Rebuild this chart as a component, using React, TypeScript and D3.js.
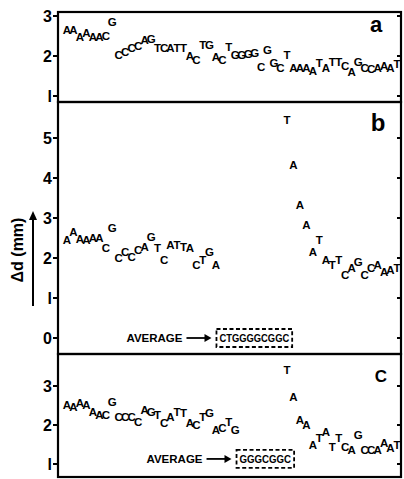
import { scaleLinear } from "d3";

// DNA sequence, one letter per base position
const bases = "AAAAAACGCCCCAGTCATTACTGACTGGGGCGGCTAAAATATTCAGCCAAAT".split("");

// Δd (mm) per base, null where the base is folded into the average
const valuesA = [
  2.65, 2.65, 2.48, 2.58, 2.48, 2.48, 2.5, 2.85, 2.03, 2.1, 2.2, 2.25, 2.4, 2.43, 2.2, 2.2, 2.2, 2.2,
  2.2, 2.0, 1.9, 2.28, 2.28, 1.98, 1.9, 2.23, 2.02, 2.03, 2.05, 2.07, 1.73, 2.15, 1.83, 1.7, 2.03, 1.7,
  1.7, 1.7, 1.63, 1.83, 1.7, 1.85, 1.85, 1.75, 1.6, 1.85, 1.7, 1.68, 1.7, 1.75, 1.7, 1.8,
];
const valuesB = [
  2.45, 2.65, 2.48, 2.45, 2.5, 2.5, 2.25, 2.75, 2.0, 2.15, 2.02, 2.2, 2.28, 2.52, 2.25, 1.95, 2.33, 2.33,
  2.28, 2.25, 1.82, 1.95, 2.15, 1.82, null, null, null, null, null, null, null, null, null, null, 5.45,
  4.33, 3.33, 2.83, 2.15, 2.45, 1.95, 1.82, 1.95, 1.58, 1.75, 1.9, 1.58, 1.75, 1.82, 1.65, 1.7, 1.75,
];
const valuesC = [
  2.51, 2.46, 2.56, 2.51, 2.33, 2.26, 2.26, 2.59, 2.2, 2.2, 2.2, 2.08, 2.38, 2.33, 2.26, 2.05, 2.2, 2.33,
  2.31, 2.05, 2.0, 2.2, 2.31, 1.87, 1.92, 2.08, 1.87, null, null, null, null, null, null, null, 3.41,
  2.72, 2.13, 2.0, 1.49, 1.67, 1.82, 1.44, 1.67, 1.44, 1.36, 1.74, 1.36, 1.36, 1.36, 1.54, 1.41, 1.49,
];

const ticksA = [1, 2, 3];
const ticksB = [0, 1, 2, 3, 4, 5];
const ticksC = [1, 2, 3];

const averageB = { text: "CTGGGGCGGC", value: 0, from: 23.1, to: 34.8 };
const averageC = { text: "GGGCGGC", value: 1.13, from: 26.2, to: 35.1 };

const FONT = "'Liberation Sans', Arial, sans-serif";
const LEFT = 58;
const RIGHT = 401;

const x = scaleLinear().domain([0, bases.length - 1]).range([67, 397]);

type PanelProps = {
  top: number;
  bottom: number;
  y: (v: number) => number;
  values: (number | null)[];
  ticks: number[];
  label: string;
  labelX: number;
  labelY: number;
  labelSize: number;
  average?: { text: string; value: number; from: number; to: number };
};

const Panel = ({ top, bottom, y, values, ticks, label, labelX, labelY, labelSize, average }: PanelProps) => {
  return (
    <g>
      <rect x={LEFT} y={top} width={RIGHT - LEFT} height={bottom - top} fill="none" stroke="#000" strokeWidth={2.2} />
      {ticks.map((t) => (
        <g key={`t-${t}`}>
          <line x1={LEFT - 5} x2={LEFT} y1={y(t)} y2={y(t)} stroke="#000" strokeWidth={2} />
          <line x1={RIGHT - 4} x2={RIGHT} y1={y(t)} y2={y(t)} stroke="#000" strokeWidth={2} />
          <text
            x={LEFT - 6}
            y={y(t)}
            textAnchor="end"
            dominantBaseline="central"
            fontFamily={FONT}
            fontWeight="bold"
            fontSize={16}
          >
            {t === 1 ? "l" : t}
          </text>
        </g>
      ))}
      {values.map((v, i) =>
        v === null ? null : (
          <text
            key={`b-${i}`}
            x={x(i)}
            y={y(v)}
            textAnchor="middle"
            dominantBaseline="central"
            fontFamily={FONT}
            fontWeight="bold"
            fontSize={11.5}
          >
            {bases[i]}
          </text>
        ),
      )}
      <text x={labelX} y={labelY} fontFamily={FONT} fontWeight="bold" fontSize={labelSize} textAnchor="middle">
        {label}
      </text>
      {average && (
        <g>
          <text
            x={x(average.from) - 34}
            y={y(average.value)}
            textAnchor="end"
            dominantBaseline="central"
            fontFamily={FONT}
            fontWeight="bold"
            fontSize={11.5}
          >
            AVERAGE
          </text>
          <line
            x1={x(average.from) - 30}
            x2={x(average.from) - 8}
            y1={y(average.value)}
            y2={y(average.value)}
            stroke="#000"
            strokeWidth={1.8}
          />
          <path d={`M${x(average.from) - 5},${y(average.value)} l-7,-4 v8 z`} fill="#000" />
          <rect
            x={x(average.from)}
            y={y(average.value) - 9}
            width={x(average.to) - x(average.from)}
            height={18}
            fill="none"
            stroke="#000"
            strokeWidth={1.8}
            strokeDasharray="4,2.5"
          />
          <text
            x={(x(average.from) + x(average.to)) / 2}
            y={y(average.value)}
            textAnchor="middle"
            dominantBaseline="central"
            fontFamily={FONT}
            fontWeight="bold"
            fontSize={11}
            textLength={x(average.to) - x(average.from) - 6}
            lengthAdjust="spacingAndGlyphs"
          >
            {average.text}
          </text>
        </g>
      )}
    </g>
  );
};

const App = () => {
  const yA = scaleLinear().domain([1, 3]).range([96, 16]);
  const yB = scaleLinear().domain([0, 5]).range([338, 138]);
  const yC = scaleLinear().domain([1, 3]).range([464, 386]);

  return (
    <svg width={404} height={479} style={{ position: "absolute", left: 0, top: 0, background: "#fff" }}>
      <Panel top={12} bottom={102} y={yA} values={valuesA} ticks={ticksA} label="a" labelX={376} labelY={32} labelSize={22} />
      <Panel
        top={102}
        bottom={354}
        y={yB}
        values={valuesB}
        ticks={ticksB}
        label="b"
        labelX={378}
        labelY={131}
        labelSize={24}
        average={averageB}
      />
      <Panel
        top={354}
        bottom={477}
        y={yC}
        values={valuesC}
        ticks={ticksC}
        label="C"
        labelX={381}
        labelY={382}
        labelSize={17}
        average={averageC}
      />
      <text
        transform="translate(23,250) rotate(-90)"
        textAnchor="middle"
        fontFamily={FONT}
        fontWeight="bold"
        fontSize={16}
      >
        Δd (mm)
      </text>
      <line x1={33} x2={33} y1={306} y2={218} stroke="#000" strokeWidth={2} />
      <path d="M33,211 l-4,9 h8 z" fill="#000" />
    </svg>
  );
};

export default App;
